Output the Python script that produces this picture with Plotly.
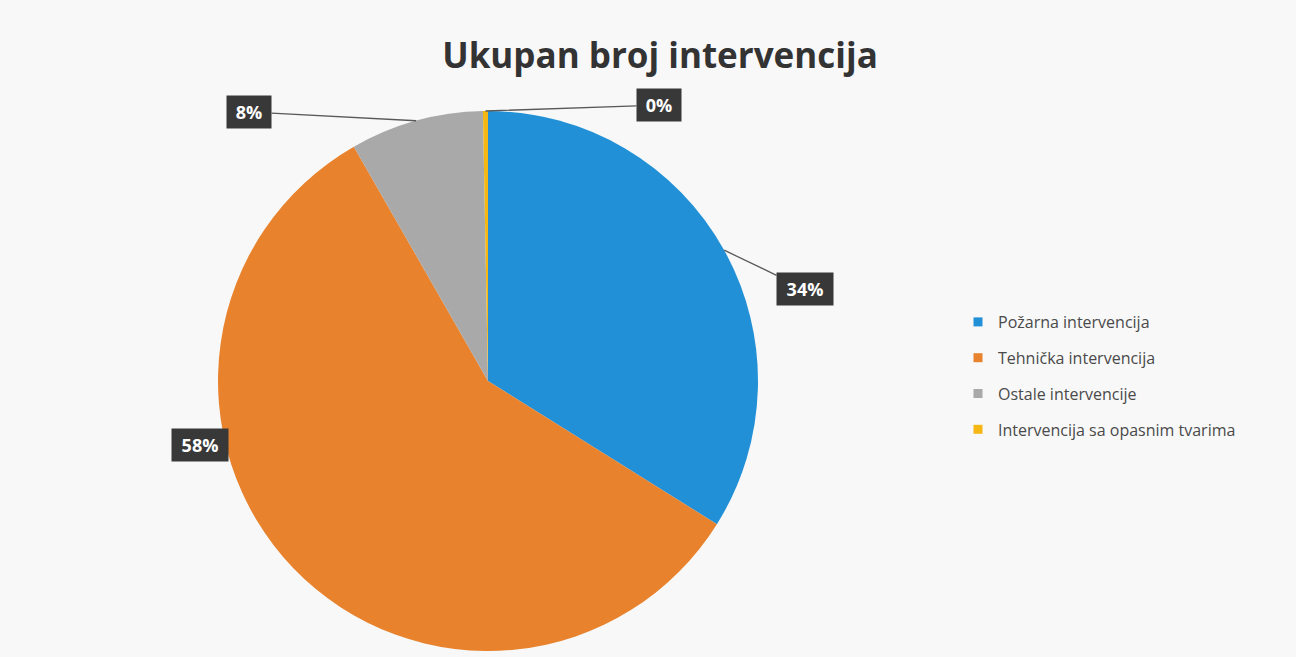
import math
import plotly.graph_objects as go

# data
categories = ["Požarna intervencija", "Tehnička intervencija",
              "Ostale intervencije", "Intervencija sa opasnim tvarima"]
values = [34, 58, 8, 0.3]
colors = ["#2290d6", "#e8822c", "#a9a9a9", "#f4b714"]

W, H = 1296, 657
CX, CY, R = 488, 381, 270          # pie centre / radius in pixels
FONT = "Open Sans, Lato, sans-serif"

# where each percentage box sits (pixels) and whether a leader line is drawn
label_boxes = [(805, 289, True), (200, 445, False), (249, 112, True), (659, 105, True)]

fig = go.Figure()
fig.add_trace(go.Pie(
    labels=categories,
    values=values,
    sort=False,
    direction="clockwise",
    rotation=0,
    marker=dict(colors=colors, line=dict(width=0)),
    textinfo="none",
    hoverinfo="label+percent",
    showlegend=False,
    domain=dict(x=[(CX - R) / W, (CX + R) / W], y=[1 - (CY + R) / H, 1 - (CY - R) / H]),
))

# legend entries (one group each so the gap between rows can be set)
for name, c in zip(categories, colors):
    fig.add_trace(go.Scatter(x=[None], y=[None], mode="markers", name=name,
                             legendgroup=name, hoverinfo="skip",
                             marker=dict(symbol="square", size=9, color=c)))

total = sum(values)
start = 0.0
annotations = []
for v, (bx, by, arrow) in zip(values, label_boxes):
    mid = (start + v / 2) / total * 2 * math.pi
    start += v
    px = CX + R * math.sin(mid)
    py = CY - R * math.cos(mid)
    txt = f"{round(v / total * 100)}%"
    common = dict(text="<b>" + txt + "</b>", xref="paper", yref="paper",
                  font=dict(family=FONT, size=18, color="white"),
                  bgcolor="#383838", borderpad=4,
                  width=12 * len(txt) + 12, height=24)
    if arrow:
        annotations.append(dict(x=px / W, y=1 - py / H, ax=bx - px, ay=by - py,
                                showarrow=True, arrowhead=0, arrowwidth=1.3,
                                arrowcolor="#595959", standoff=0, startstandoff=0,
                                **common))
    else:
        annotations.append(dict(x=bx / W, y=1 - by / H, xanchor="center", yanchor="middle",
                                showarrow=False, **common))

fig.update_layout(
    width=W, height=H,
    margin=dict(l=0, r=0, t=0, b=0),
    paper_bgcolor="#f8f8f8",
    plot_bgcolor="#f8f8f8",
    xaxis=dict(visible=False),
    yaxis=dict(visible=False),
    title=dict(text="<b>Ukupan broj intervencija</b>", x=660 / W, xanchor="center",
               yref="container", y=1 - 56 / H, yanchor="middle",
               font=dict(family=FONT, size=35, color="#333333")),
    legend=dict(x=958 / W, y=1 - 305 / H, xanchor="left", yanchor="top",
                font=dict(family=FONT, size=16, color="#4a4a4a"),
                tracegroupgap=12, bgcolor="rgba(0,0,0,0)", itemclick=False),
    annotations=annotations,
)

fig.write_html("out.html", config={"displayModeBar": False},
               post_script="document.body.style.margin='0';")
